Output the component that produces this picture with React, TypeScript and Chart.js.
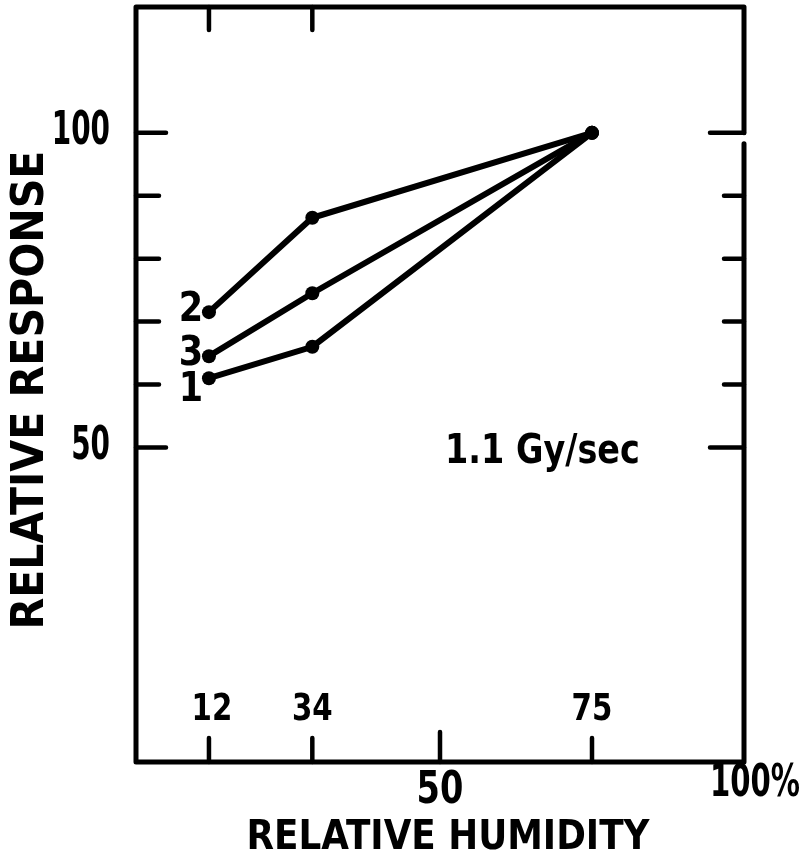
import React, { useEffect, useRef } from "react";
import { Chart, registerables } from "chart.js";

Chart.register(...registerables);

// ---- data ----
const humidity = [12, 29, 75]; // plotted positions of the 12, 34, 75 % points
const response1 = [61, 66, 100];
const response2 = [71.5, 86.5, 100];
const response3 = [64.5, 74.5, 100];
const seriesNames = ["1", "2", "3"];

// ---- axis ticks / labels ----
const yTickValues = [50, 60, 70, 80, 90, 100];
const yMajorTicks = [50, 100];
const yTickLabels = ["50", "100"];
const xBottomTicks = [12, 29, 50, 75];
const xTopTicks = [12, 29];
const xInnerLabelValues = [12, 29, 75];
const xInnerLabels = ["12", "34", "75"];
const xOuterLabelValues = [50, 100];
const xOuterLabels = ["50", "100%"];

const FONT = '"Liberation Sans Narrow", "DejaVu Sans Condensed", "Roboto", sans-serif';

function drawText(
  ctx: CanvasRenderingContext2D,
  text: string,
  x: number,
  y: number,
  size: number,
  sx: number,
  align: CanvasTextAlign,
  rotate = 0
) {
  ctx.save();
  ctx.translate(x, y);
  if (rotate) ctx.rotate(rotate);
  ctx.scale(sx, 1);
  ctx.font = `bold ${size}px ${FONT}`;
  ctx.textAlign = align;
  ctx.textBaseline = "middle";
  ctx.fillText(text, 0, 0);
  ctx.restore();
}

const framePlugin = {
  id: "framePlugin",
  afterDraw(chart: any) {
    const ctx = chart.ctx;
    const { left, right, top, bottom } = chart.chartArea;
    const xs = chart.scales.x;
    const ys = chart.scales.y;
    ctx.save();
    ctx.strokeStyle = "#000";
    ctx.fillStyle = "#000";
    ctx.lineWidth = 5;
    ctx.lineCap = "round";
    ctx.lineJoin = "round";

    // frame: left, top, bottom, right (with a small break below 100)
    const y100 = ys.getPixelForValue(100);
    ctx.beginPath();
    ctx.moveTo(left, top);
    ctx.lineTo(left, bottom);
    ctx.lineTo(right, bottom);
    ctx.lineTo(right, y100 + 11);
    ctx.moveTo(right, y100);
    ctx.lineTo(right, top);
    ctx.lineTo(left, top);
    ctx.stroke();

    // y ticks both sides
    ctx.lineWidth = 4.5;
    yTickValues.forEach((v) => {
      const py = ys.getPixelForValue(v);
      const major = yMajorTicks.includes(v);
      ctx.beginPath();
      ctx.moveTo(left, py);
      ctx.lineTo(left + (major ? 30 : 23), py);
      ctx.moveTo(right, py);
      ctx.lineTo(right - (major ? 34 : 20), py);
      ctx.stroke();
    });

    // x ticks bottom
    xBottomTicks.forEach((v) => {
      const px = xs.getPixelForValue(v);
      const len = v === 50 ? 30 : 24;
      ctx.beginPath();
      ctx.moveTo(px, bottom);
      ctx.lineTo(px, bottom - len);
      ctx.stroke();
    });
    // x ticks top
    xTopTicks.forEach((v) => {
      const px = xs.getPixelForValue(v);
      ctx.beginPath();
      ctx.moveTo(px, top);
      ctx.lineTo(px, top + 23);
      ctx.stroke();
    });

    // y tick labels
    yTickLabels.forEach((t, i) => {
      drawText(ctx, t, left - 26, ys.getPixelForValue(yMajorTicks[i]) - 1, 47, 0.66, "right");
    });
    // x outer labels
    xOuterLabels.forEach((t, i) => {
      const v = xOuterLabelValues[i];
      const px = xs.getPixelForValue(v) + (v === 100 ? 11 : 0);
      drawText(ctx, t, px, bottom + (v === 100 ? 22 : 29), 45, v === 100 ? 0.72 : 0.83, "center");
    });
    // x inner labels
    xInnerLabels.forEach((t, i) => {
      drawText(ctx, t, xs.getPixelForValue(xInnerLabelValues[i]) + (i === 0 ? 3 : 0), bottom - 52, 37, 0.88, "center");
    });

    // series labels
    const starts = [response1[0], response2[0], response3[0]];
    const offs = [12, -2, -2];
    seriesNames.forEach((n, i) => {
      drawText(ctx, n, xs.getPixelForValue(humidity[0]) - 18, ys.getPixelForValue(starts[i]) + offs[i], 41, 0.95, "center");
    });

    // dose rate annotation
    drawText(ctx, "1.1 Gy/sec", 445, 453, 40, 0.93, "left");

    // axis titles
    drawText(ctx, "RELATIVE HUMIDITY", 448, 838, 41, 0.97, "center");
    drawText(ctx, "RELATIVE RESPONSE", 32, 390, 44, 1.04, "center", -Math.PI / 2);

    ctx.restore();
  },
};

export default function App() {
  const ref = useRef<HTMLCanvasElement>(null);
  useEffect(() => {
    if (!ref.current) return;
    const mk = (data: number[]) => ({
      data: humidity.map((x, i) => ({ x, y: data[i] })),
      borderColor: "#000",
      backgroundColor: "#000",
      borderWidth: 6,
      pointRadius: 7,
      pointBackgroundColor: "#000",
      pointBorderWidth: 0,
      tension: 0,
    });
    const chart = new Chart(ref.current, {
      type: "line",
      data: {
        datasets: [mk(response1), mk(response2), mk(response3)],
      },
      options: {
        responsive: false,
        animation: false,
        devicePixelRatio: 1,
        layout: { padding: { left: 136, right: 64, top: 7, bottom: 105 } },
        plugins: { legend: { display: false }, tooltip: { enabled: false } },
        scales: {
          x: { type: "linear", min: 0, max: 100, display: false },
          y: { type: "linear", min: 0, max: 120, display: false },
        },
      },
      plugins: [framePlugin],
    });
    return () => chart.destroy();
  }, []);
  return (
    <div style={{ position: "absolute", left: 0, top: 0, width: 808, height: 867, background: "#fff" }}>
      <canvas ref={ref} width={808} height={867} />
    </div>
  );
}
